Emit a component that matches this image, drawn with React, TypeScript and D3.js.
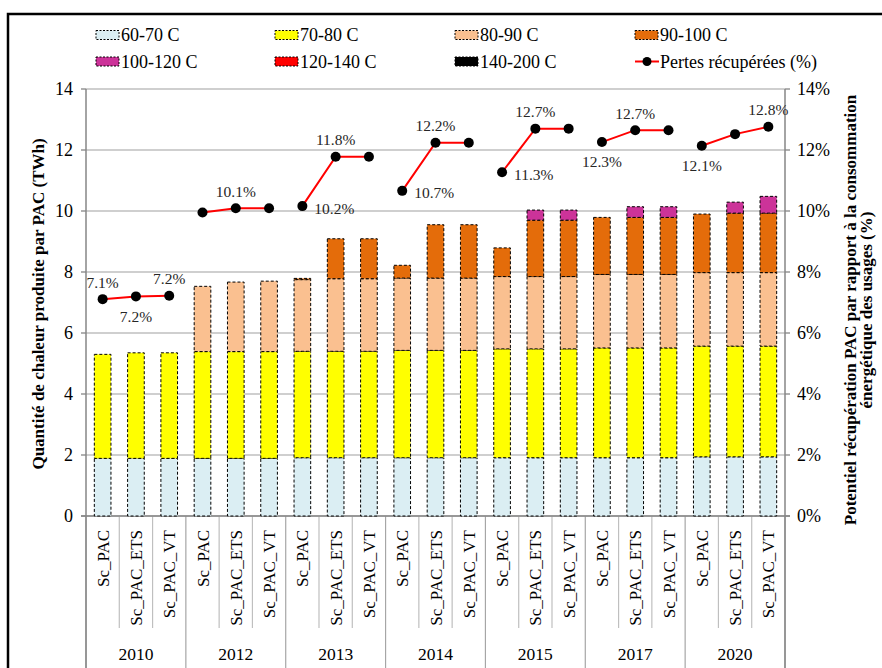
import React from 'react';
import * as d3 from 'd3';

const years = ['2010', '2012', '2013', '2014', '2015', '2017', '2020'];
const scenarios = ['Sc_PAC', 'Sc_PAC_ETS', 'Sc_PAC_VT'];

const seriesNames = ['60-70 C', '70-80 C', '80-90 C', '90-100 C', '100-120 C', '120-140 C', '140-200 C'];
const seriesColors = ['#DBEEF3', '#FFFF00', '#FAC090', '#E46C0A', '#CC3399', '#FF0000', '#000000'];

const s6070 = [1.89, 1.89, 1.89, 1.89, 1.89, 1.89, 1.91, 1.91, 1.91, 1.91, 1.91, 1.91, 1.91, 1.91, 1.91, 1.91, 1.91, 1.91, 1.94, 1.94, 1.94];
const s7080 = [3.41, 3.46, 3.46, 3.5, 3.5, 3.5, 3.49, 3.49, 3.49, 3.52, 3.52, 3.52, 3.57, 3.57, 3.57, 3.6, 3.6, 3.6, 3.63, 3.63, 3.63];
const s8090 = [0, 0, 0, 2.14, 2.28, 2.31, 2.35, 2.38, 2.38, 2.37, 2.37, 2.37, 2.37, 2.37, 2.37, 2.41, 2.41, 2.41, 2.41, 2.41, 2.41];
const s90100 = [0, 0, 0, 0, 0, 0, 0.04, 1.31, 1.31, 0.42, 1.75, 1.75, 0.94, 1.85, 1.85, 1.87, 1.87, 1.87, 1.92, 1.95, 1.95];
const s100120 = [0, 0, 0, 0, 0, 0, 0, 0, 0, 0, 0, 0, 0, 0.33, 0.33, 0, 0.35, 0.35, 0, 0.36, 0.55];
const s120140 = [0, 0, 0, 0, 0, 0, 0, 0, 0, 0, 0, 0, 0, 0, 0, 0, 0, 0, 0, 0, 0];
const s140200 = [0, 0, 0, 0, 0, 0, 0, 0, 0, 0, 0, 0, 0, 0, 0, 0, 0, 0, 0, 0, 0];

const lineName = 'Pertes récupérées (%)';
const pct = [7.11, 7.2, 7.22, 9.95, 10.09, 10.09, 10.16, 11.78, 11.78, 10.66, 12.24, 12.24, 11.27, 12.7, 12.7, 12.26, 12.65, 12.65, 12.14, 12.52, 12.76];
const pctLabels = ['7.1%', '7.2%', '7.2%', null, '10.1%', null, '10.2%', '11.8%', null, '10.7%', '12.2%', null, '11.3%', '12.7%', null, '12.3%', '12.7%', null, '12.1%', null, '12.8%'];
const pctLabelPos = ['above', 'below', 'above', '', 'above', '', 'right', 'above', '', 'right', 'above', '', 'right', 'above', '', 'below', 'above', '', 'below', '', 'above'];

const leftTicks = [0, 2, 4, 6, 8, 10, 12, 14];
const rightTicks = [0, 2, 4, 6, 8, 10, 12, 14];

const leftTitle = 'Quantité de chaleur produite par PAC (TWh)';
const rightTitle1 = 'Potentiel récupération PAC par rapport à la consommation';
const rightTitle2 = 'énergétique des usages (%)';

const FONT = 'Liberation Serif, Times New Roman, DejaVu Serif, serif';

export default function App() {
  const W = 882, H = 668;
  const L = 86, R = 785, T = 89, B = 516;
  const seriesArrays = [s6070, s7080, s8090, s90100, s100120, s120140, s140200];
  const cats = years.flatMap((y) => scenarios.map((s) => ({ year: y, sc: s })));
  const rows = cats.map((c, i) => {
    const o: any = { idx: i };
    seriesNames.forEach((n, k) => (o[n] = seriesArrays[k][i]));
    return o;
  });
  const stacked = d3.stack().keys(seriesNames)(rows);
  const x = d3.scaleBand<number>().domain(d3.range(cats.length)).range([L, R]).padding(0);
  const step = x.step();
  const bw = step * 0.5;
  const cx = (i: number) => (x(i) as number) + step / 2;
  const y = d3.scaleLinear().domain([0, 14]).range([B, T]);
  const yR = d3.scaleLinear().domain([0, 14]).range([B, T]);
  const line = d3.line<number>().x((d) => cx(d)).y((d) => yR(pct[d]));

  const legendCols = [96, 275, 455, 635];
  const legendRows = [35, 61.5];
  const legendItems = [...seriesNames.map((n, k) => ({ n, k })), { n: lineName, k: -1 }];

  return (
    <svg width={W} height={H} fontFamily={FONT} style={{ position: 'absolute', left: 0, top: 0 }}>
      <rect x={0} y={0} width={W} height={H} fill="#fff" />
      <rect x={8} y={14} width={W + 20} height={H + 20} fill="none" stroke="#000" strokeWidth={2.5} />

      {/* legend */}
      {legendItems.map((it, j) => {
        const lx = legendCols[j % 4];
        const ly = legendRows[Math.floor(j / 4)];
        return (
          <g key={'lg' + j}>
            {it.k >= 0 ? (
              <rect x={lx} y={ly - 4.5} width={23} height={9} fill={seriesColors[it.k]} stroke="#000" strokeWidth={1} strokeDasharray="2 1.5" />
            ) : (
              <g>
                <line x1={lx} x2={lx + 24} y1={ly} y2={ly} stroke="#FF0000" strokeWidth={2} />
                <circle cx={lx + 12} cy={ly} r={4.5} fill="#000" />
              </g>
            )}
            <text x={lx + 25} y={ly} dy="0.35em" fontFamily={FONT} fontSize={18} fill="#000">{it.n}</text>
          </g>
        );
      })}

      {/* gridlines */}
      {leftTicks.map((t) => (
        <line key={'g' + t} x1={L} x2={R} y1={y(t)} y2={y(t)} stroke="#BFBFBF" strokeWidth={1.3} />
      ))}

      {/* category separators */}
      {d3.range(cats.length + 1).map((i) => {
        const xx = L + i * step;
        return <line key={'s' + i} x1={xx} x2={xx} y1={B} y2={i % 3 === 0 ? H : 628} stroke={i % 3 === 0 ? '#A6A6A6' : '#BFBFBF'} strokeWidth={1.2} />;
      })}

      {/* axes */}
      <line x1={L} x2={L} y1={T} y2={H} stroke="#868686" strokeWidth={1.5} />
      <line x1={R} x2={R} y1={T} y2={H} stroke="#868686" strokeWidth={1.5} />
      <line x1={L - 5} x2={R + 5} y1={B} y2={B} stroke="#868686" strokeWidth={1.5} />
      {leftTicks.map((t) => (
        <g key={'lt' + t}>
          <line x1={L - 5} x2={L} y1={y(t)} y2={y(t)} stroke="#868686" strokeWidth={1.3} />
          <text x={73} y={y(t)} dy="0.35em" textAnchor="end" fontFamily={FONT} fontSize={18} fill="#000">{t}</text>
        </g>
      ))}
      {rightTicks.map((t) => (
        <g key={'rt' + t}>
          <line x1={R} x2={R + 5} y1={yR(t)} y2={yR(t)} stroke="#868686" strokeWidth={1.3} />
          <text x={797} y={yR(t)} dy="0.35em" textAnchor="start" fontFamily={FONT} fontSize={18} fill="#000">{t + '%'}</text>
        </g>
      ))}

      {/* bars */}
      {stacked.map((s, k) => (
        <g key={'ser' + k}>
          {s.map((d, i) =>
            d[1] - d[0] > 0 ? (
              <rect key={i} x={cx(i) - bw / 2} y={y(d[1])} width={bw} height={y(d[0]) - y(d[1])} fill={seriesColors[k]} stroke="#000" strokeWidth={1} strokeDasharray="3 2" />
            ) : null
          )}
        </g>
      ))}

      {/* line series: one polyline per year */}
      {years.map((yr, g) => (
        <path key={'ln' + yr} d={line([g * 3, g * 3 + 1, g * 3 + 2]) || ''} fill="none" stroke="#FF0000" strokeWidth={2} />
      ))}
      {pct.map((p, i) => (
        <circle key={'m' + i} cx={cx(i)} cy={yR(p)} r={5} fill="#000" />
      ))}
      {pctLabels.map((lb, i) => {
        if (!lb) return null;
        const pos = pctLabelPos[i];
        const px = cx(i), py = yR(pct[i]);
        if (pos === 'above') return <text key={'pl' + i} x={px} y={py - 17} dy="0.35em" textAnchor="middle" fontFamily={FONT} fontSize={15.5} fill="#262626">{lb}</text>;
        if (pos === 'below') return <text key={'pl' + i} x={px} y={py + 20} dy="0.35em" textAnchor="middle" fontFamily={FONT} fontSize={15.5} fill="#262626">{lb}</text>;
        return <text key={'pl' + i} x={px + 12} y={py + 2} dy="0.35em" textAnchor="start" fontFamily={FONT} fontSize={15.5} fill="#262626">{lb}</text>;
      })}

      {/* category labels */}
      {cats.map((c, i) => (
        <text key={'cl' + i} transform={`translate(${cx(i) + 6},530) rotate(-90)`} textAnchor="end" fontFamily={FONT} fontSize={17} fill="#000">{c.sc}</text>
      ))}
      {years.map((yr, g) => (
        <text key={'yl' + yr} x={L + (g * 3 + 1.5) * step} y={654} dy="0.35em" textAnchor="middle" fontFamily={FONT} fontSize={17.5} fill="#000">{yr}</text>
      ))}

      {/* axis titles */}
      <text transform="translate(43.5,304) rotate(-90)" textAnchor="middle" fontFamily={FONT} fontSize={17} fontWeight="bold" fill="#000">{leftTitle}</text>
      <text transform="translate(856,310) rotate(-90)" textAnchor="middle" fontFamily={FONT} fontSize={17} fontWeight="bold" fill="#000">{rightTitle1}</text>
      <text transform="translate(872,310) rotate(-90)" textAnchor="middle" fontFamily={FONT} fontSize={17} fontWeight="bold" fill="#000">{rightTitle2}</text>
    </svg>
  );
}
